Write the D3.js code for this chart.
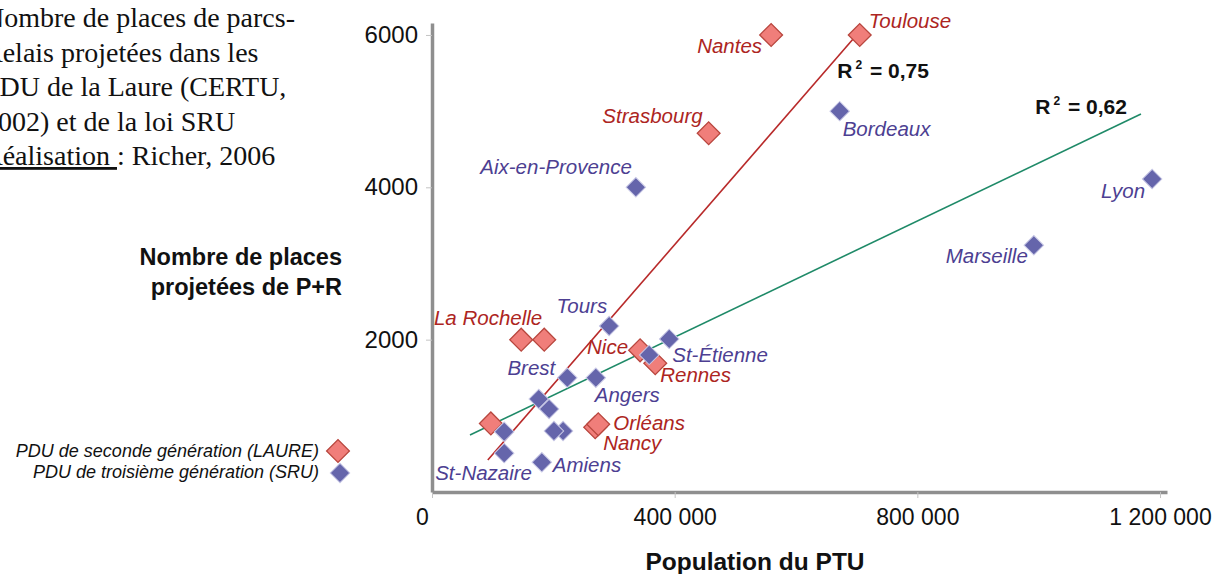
<!DOCTYPE html>
<html>
<head>
<meta charset="utf-8">
<script src="https://cdn.jsdelivr.net/npm/d3@7"></script>
<style>
  body { margin: 0; background: #fff; }
  svg { display: block; }
</style>
</head>
<body>
<div id="chart"></div>
<script>
// PDU de seconde génération (LAURE)
var laureCities = ["Toulouse", "Nantes", "Strasbourg", "", "La Rochelle", "Nice", "Rennes", "Nancy", "Orléans", ""];
var laurePop    = [705000, 559000, 456000, 147000, 185000, 343000, 368000, 269000, 274000, 97000];
var laurePlaces = [6000, 6000, 4710, 2000, 2000, 1860, 1690, 850, 890, 900];

// PDU de troisième génération (SRU)
var sruCities = ["Lyon", "Marseille", "Bordeaux", "Aix-en-Provence", "Tours", "St-Étienne", "", "Brest", "Angers",
                 "", "", "", "", "", "St-Nazaire", "Amiens"];
var sruPop    = [1187000, 992000, 672000, 336000, 292000, 391000, 358000, 223000, 270000,
                 176000, 193000, 216000, 201000, 119000, 119000, 181000];
var sruPlaces = [4110, 3240, 5000, 4000, 2180, 2010, 1800, 1500, 1500,
                 1220, 1090, 800, 800, 790, 510, 390];

// tendances linéaires
var trendLaure = {slope: 0.009178, intercept: -424, from: 92000, to: 700500, r2: "0,75"};
var trendSru   = {slope: 0.003811, intercept: 509, from: 62600, to: 1168600, r2: "0,62"};

var xTicks = [0, 400000, 800000, 1200000];
var yTicks = [2000, 4000, 6000];

var noteLines = ["Nombre de places de parcs-", "Relais projetées dans les", "PDU de la Laure (CERTU,", "2002) et de la loi SRU"];
var legendLabels = ["PDU de seconde génération (LAURE)", "PDU de troisième génération (SRU)"];

// placement des étiquettes de villes: [dx, dy, ancrage]
var labelPos = {
  "Toulouse": [9, -7, "start"], "Nantes": [-9, 18, "end"], "Strasbourg": [-6, -10, "end"],
  "La Rochelle": [-2, -15, "end"], "Nice": [-12, 4, "end"], "Rennes": [5, 19, "start"],
  "Orléans": [15, 6, "start"], "Nancy": [8, 23, "start"],
  "Lyon": [-7, 19, "end"], "Marseille": [-6, 18, "end"], "Bordeaux": [3, 25, "start"],
  "Aix-en-Provence": [-4, -13, "end"], "Tours": [-2, -13, "end"], "St-Étienne": [3, 23, "start"],
  "Brest": [-12, -3, "end"], "Angers": [-1, 24, "start"], "Amiens": [11, 10, "start"],
  "St-Nazaire": [-69, 27, "start"]
};

var laure = laureCities.map(function(c, i) { return {city: c, pop: laurePop[i], places: laurePlaces[i]}; });
var sru = sruCities.map(function(c, i) { return {city: c, pop: sruPop[i], places: sruPlaces[i]}; });

var width = 1216, height = 574;
var svg = d3.select("#chart").append("svg")
    .attr("width", width)
    .attr("height", height)
    .style("font-family", "'Liberation Sans', Arial, sans-serif");

var xScale = d3.scaleLinear().domain([0, 1211500]).range([432, 1167]);
var yScale = d3.scaleLinear().domain([0, 6157]).range([492, 23]);

var fr = d3.formatLocale({decimal: ",", thousands: " ", grouping: [3], currency: ["", " €"]});

// axes
var xAxis = svg.append("g")
    .attr("transform", "translate(0,492)")
    .call(d3.axisBottom(xScale).tickValues(xTicks).tickSize(6).tickSizeOuter(0).tickPadding(11)
      .tickFormat(fr.format(",")));
var yAxis = svg.append("g")
    .attr("transform", "translate(432,0)")
    .call(d3.axisLeft(yScale).tickValues(yTicks).tickSize(6).tickSizeOuter(0).tickPadding(8)
      .tickFormat(d3.format("d")));

[xAxis, yAxis].forEach(function(ax) {
  ax.select(".domain").attr("stroke", "#8f8f8f").attr("stroke-width", 3.5);
  ax.selectAll(".tick line").attr("stroke", "#c4c4c4");
  ax.selectAll(".tick text").attr("fill", "#111").attr("font-size", "23px")
    .attr("font-family", "'Liberation Sans', Arial, sans-serif");
});
yAxis.selectAll(".tick text").attr("font-size", "24px");
xAxis.selectAll(".tick text").filter(function(d) { return d === 0; }).attr("dx", -10);

// titres des axes
svg.append("text")
    .attr("x", 755).attr("y", 570)
    .attr("text-anchor", "middle")
    .attr("font-weight", "bold")
    .attr("font-size", "24.5px")
    .attr("fill", "#111")
    .text("Population du PTU");

var yTitle = svg.append("text")
    .attr("text-anchor", "end")
    .attr("font-weight", "bold")
    .attr("font-size", "23.5px")
    .attr("fill", "#111");
yTitle.append("tspan").attr("x", 342).attr("y", 265).text("Nombre de places");
yTitle.append("tspan").attr("x", 342).attr("y", 295).text("projetées de P+R");

// droites de tendance
function trendLine(t, color) {
  var pts = [t.from, t.to].map(function(v) { return [xScale(v), yScale(t.slope * v + t.intercept)]; });
  svg.append("path")
      .attr("d", d3.line()(pts))
      .attr("stroke", color)
      .attr("stroke-width", 1.6)
      .attr("fill", "none");
  return pts;
}
var endLaure = trendLine(trendLaure, "#b82a2a")[1];
var endSru = trendLine(trendSru, "#1f8a68")[1];

function r2Label(x, y, val) {
  var t = svg.append("text")
      .attr("x", x).attr("y", y)
      .attr("text-anchor", "end")
      .attr("font-weight", "bold")
      .attr("font-size", "21px")
      .attr("fill", "#111");
  t.append("tspan").text("R");
  t.append("tspan").attr("font-size", "12px").attr("dy", -9).attr("dx", 3).text("2");
  t.append("tspan").attr("dy", 9).attr("dx", 2).text(" = " + val);
}
r2Label(endLaure[0] + 72, endLaure[1] + 43, trendLaure.r2);
r2Label(endSru[0] - 14, endSru[1], trendSru.r2);

// points
var redSym = d3.symbol().type(d3.symbolSquare).size(260);
var blueSym = d3.symbol().type(d3.symbolSquare).size(190);

svg.append("g").selectAll("path")
    .data(laure)
    .enter()
    .append("path")
      .attr("d", redSym)
      .attr("transform", function(d) { return "translate(" + xScale(d.pop) + "," + yScale(d.places) + ") rotate(45)"; })
      .attr("fill", "#f07e7a")
      .attr("stroke", "#b8463e")
      .attr("stroke-width", 1.3);

svg.append("g").selectAll("path")
    .data(sru)
    .enter()
    .append("path")
      .attr("d", blueSym)
      .attr("transform", function(d) { return "translate(" + xScale(d.pop) + "," + yScale(d.places) + ") rotate(45)"; })
      .attr("fill", "#6565ab")
      .attr("stroke", "#c9c9e6")
      .attr("stroke-width", 1);

// étiquettes
function cityLabels(data, color) {
  svg.append("g").selectAll("text")
      .data(data.filter(function(d) { return d.city !== ""; }))
      .enter()
      .append("text")
      .attr("x", function(d) { return xScale(d.pop) + labelPos[d.city][0]; })
      .attr("y", function(d) { return yScale(d.places) + labelPos[d.city][1]; })
      .attr("text-anchor", function(d) { return labelPos[d.city][2]; })
      .attr("font-style", "italic")
      .attr("font-size", "20.5px")
      .attr("fill", color)
      .text(function(d) { return d.city; });
}
cityLabels(laure, "#ad2522");
cityLabels(sru, "#4d3f92");

// légende
var legend = svg.append("g");
legend.selectAll("text")
    .data(legendLabels)
    .enter()
    .append("text")
    .attr("x", 319)
    .attr("y", function(d, i) { return 457 + i * 21; })
    .attr("text-anchor", "end")
    .attr("font-style", "italic")
    .attr("font-size", "18px")
    .attr("fill", "#111")
    .text(function(d) { return d; });
legend.append("path")
    .attr("d", redSym)
    .attr("transform", "translate(338,451) rotate(45)")
    .attr("fill", "#f07e7a").attr("stroke", "#b8463e").attr("stroke-width", 1.3);
legend.append("path")
    .attr("d", blueSym)
    .attr("transform", "translate(340,473) rotate(45)")
    .attr("fill", "#6565ab").attr("stroke", "#c9c9e6");

// note en haut à gauche (coupée au bord gauche comme dans l'original)
var note = svg.append("text")
    .attr("font-family", "'Liberation Serif', 'Times New Roman', serif")
    .attr("font-size", "28px")
    .attr("fill", "#111");
noteLines.forEach(function(l, i) {
  note.append("tspan").attr("x", -16).attr("y", 27 + i * 34.5).text(l);
});
note.append("tspan").attr("x", -16).attr("y", 165)
    .attr("text-decoration", "underline").text("Réalisation ");
note.append("tspan").text(": Richer, 2006");
</script>
</body>
</html>
